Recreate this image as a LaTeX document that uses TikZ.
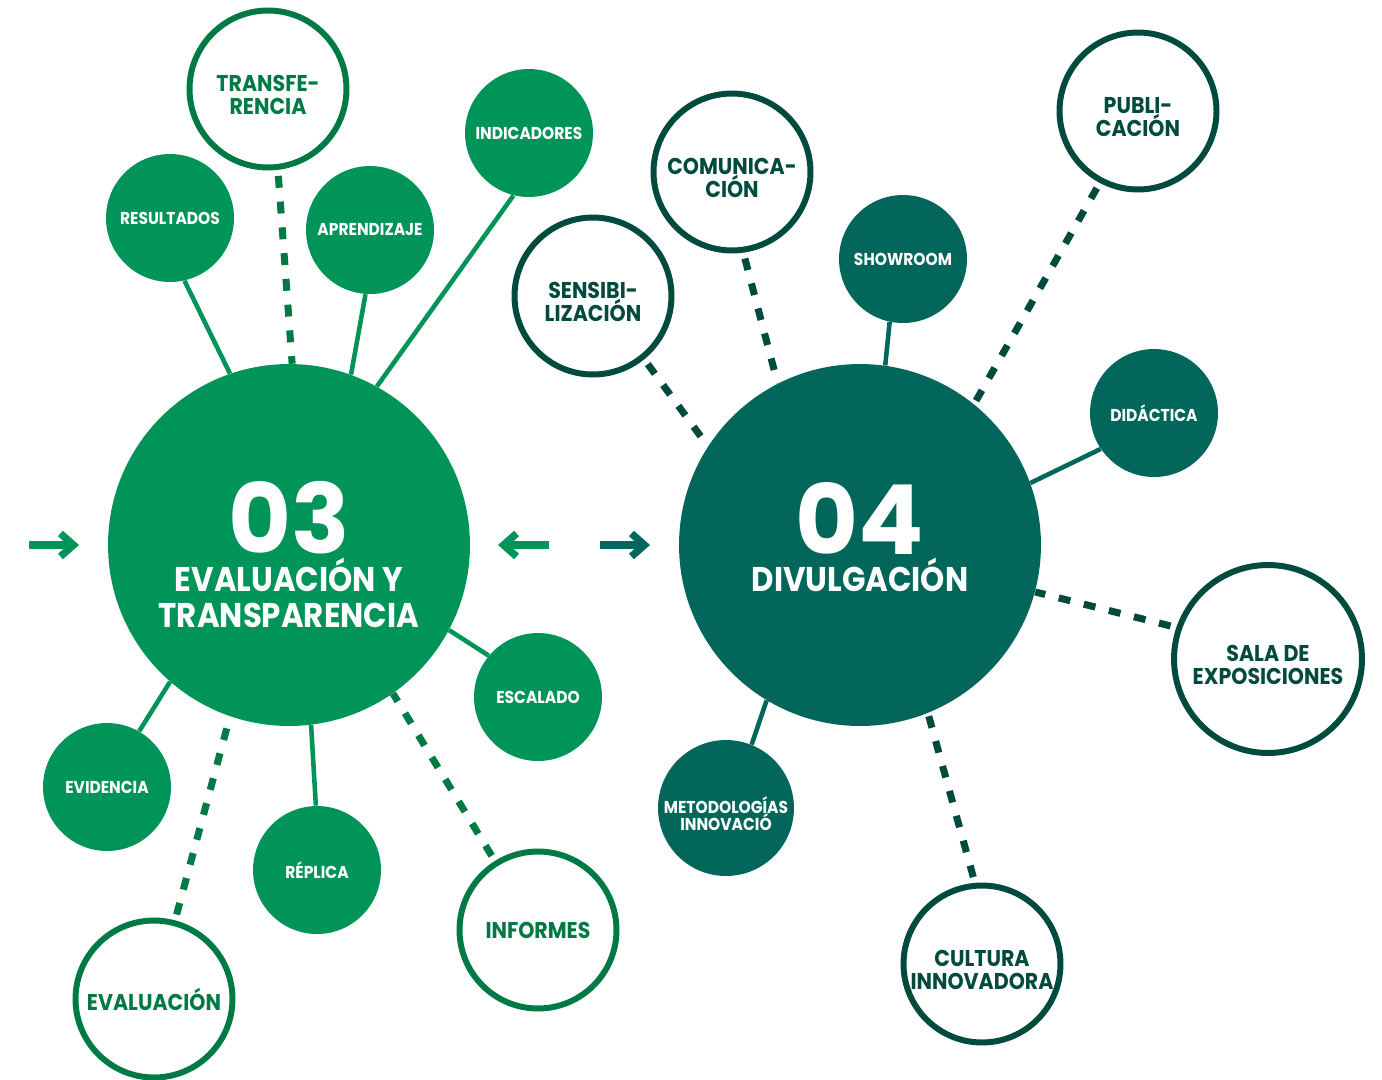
\documentclass[tikz,border=0pt]{standalone}
\usepackage{fontspec}
\setmainfont{Poppins}[FakeStretch=0.9]
\newfontfamily\numfont{Poppins}
\usepackage{tikz}
\usetikzlibrary{arrows.meta,positioning,shapes}
\definecolor{leaf}{HTML}{009459}
\definecolor{leafring}{HTML}{007A45}
\definecolor{teal}{HTML}{02665A}
\definecolor{tealring}{HTML}{004A3E}
\newcommand\tightlines{\lineskiplimit -20pt\lineskip 0pt\relax}
\tikzset{
  hub/.style={circle,fill=#1,minimum size=7.24cm,inner sep=0pt},
  hubnum/.style={text=white,font=\numfont\fontsize{55}{55}\selectfont\bfseries,inner sep=0pt},
  hubtxt/.style={text=white,font=\fontsize{19.5}{20.5}\selectfont\bfseries,
                 align=center,inner sep=0pt},
  dotnode/.style={circle,fill=#1,minimum size=2.56cm,inner sep=0pt,
                  text=white,align=center,
                  font=\fontsize{9.8}{9.9}\selectfont\tightlines\bfseries},
  ringnode/.style={circle,draw=#1,fill=white,line width=3.4pt,
                   minimum size=3.14cm,inner sep=0pt,text=#1,align=center,
                   font=\fontsize{13}{13.1}\selectfont\tightlines\bfseries},
  twoline/.style={text height=29.2pt},
  solidlink/.style={draw=#1,line width=2.6pt},
  dashlink/.style={draw=#1,line width=4pt,dash pattern=on 6.8pt off 7.9pt,
                   shorten <=0.12cm},
  flowarr/.style={draw=#1,line width=4.2pt,
                  -{Straight Barb[length=2.6mm,width=4.6mm]}}
}

\begin{document}
\begin{tikzpicture}[x=0.02cm,y=-0.02cm]
  \useasboundingbox (0,0) rectangle (1382,1079);

  % hubs
  \node[hub=leaf] (eval) at (289,545) {};
  \node[hub=teal] (divu) at (860,545) {};

  % left cluster
  \node[dotnode=leaf] (resu) at (170,218) {RESULTADOS};
  \node[dotnode=leaf] (apre) at (370,230) {APRENDIZAJE};
  \node[dotnode=leaf] (indi) at (529,133) {INDICADORES};
  \node[dotnode=leaf] (esca) at (538,697) {ESCALADO};
  \node[dotnode=leaf] (evid) at (107,787) {EVIDENCIA};
  \node[dotnode=leaf] (repl) at (317,870) {RÉPLICA};
  \node[ringnode=leafring,twoline] (tran) at (268,89) {TRANSFE-\\RENCIA};
  \node[ringnode=leafring] (valu) at (154,999) {EVALUACIÓN};
  \node[ringnode=leafring] (info) at (538,930) {INFORMES};

  % right cluster
  \node[dotnode=teal] (show) at (903,259) {SHOWROOM};
  \node[dotnode=teal] (dida) at (1154,413) {DIDÁCTICA};
  \node[dotnode=teal,minimum size=2.72cm,text height=26.2pt] (meto) at (726,808) {METODOLOGÍAS\\INNOVACIÓ};
  \node[ringnode=tealring,twoline] (comu) at (732,172) {COMUNICA-\\CIÓN};
  \node[ringnode=tealring,twoline] (sens) at (593,296) {SENSIBI-\\LIZACIÓN};
  \node[ringnode=tealring,twoline] (publ) at (1138,111) {PUBLI-\\CACIÓN};
  \node[ringnode=tealring,twoline,minimum size=3.76cm] (sala) at (1268,659) {SALA DE\\EXPOSICIONES};
  \node[ringnode=tealring,twoline] (cult) at (982,964) {CULTURA\\INNOVADORA};

  % connectors 03
  \draw[solidlink=leaf] (resu.-77) -- (eval.109);
  \draw[dashlink=leafring] (tran.-83) -- (eval.89);
  \draw[solidlink=leaf] (apre.-94) -- (eval.70);
  \draw[solidlink=leaf] (indi.-104) -- (eval.61);
  \draw[solidlink=leaf] (eval.-28) -- (esca.140);
  \draw[dashlink=leafring] (info.122) -- (eval.-55);
  \draw[solidlink=leaf] (eval.-83) -- (repl.91);
  \draw[solidlink=leaf] (eval.-131) -- (evid.60);
  \draw[dashlink=leafring] (valu.75) -- (eval.-109);

  % connectors 04
  \draw[dashlink=tealring] (sens.-51) -- (divu.147);
  \draw[dashlink=tealring] (comu.-82) -- (divu.117);
  \draw[solidlink=teal] (show.-102) -- (divu.82);
  \draw[dashlink=tealring] (publ.-118) -- (divu.51);
  \draw[solidlink=teal] (dida.-146) -- (divu.20);
  \draw[dashlink=tealring] (sala.161) -- (divu.-15);
  \draw[dashlink=tealring] (cult.95) -- (divu.-68);
  \draw[solidlink=teal] (divu.-121) -- (meto.68);

  % hub texts
  \node[hubnum] (n03) at (289,518) {03};
  \node[hubtxt] (t03) at (289,593) {EVALUACIÓN Y\\TRANSPARENCIA};
  \node[hubnum] (n04) at (860,518) {04};
  \node[hubtxt] (t04) at (860,575) {DIVULGACIÓN};

  % flow arrows
  \coordinate (a1s) at (29,545);
  \coordinate (a1e) at (79,545);
  \coordinate (a2s) at (549,545);
  \coordinate (a2e) at (498,545);
  \coordinate (a3s) at (600,545);
  \coordinate (a3e) at (650,545);
  \draw[flowarr=leaf] (a1s) -- (a1e);
  \draw[flowarr=leaf] (a2s) -- (a2e);
  \draw[flowarr=teal] (a3s) -- (a3e);
\end{tikzpicture}
\end{document}
